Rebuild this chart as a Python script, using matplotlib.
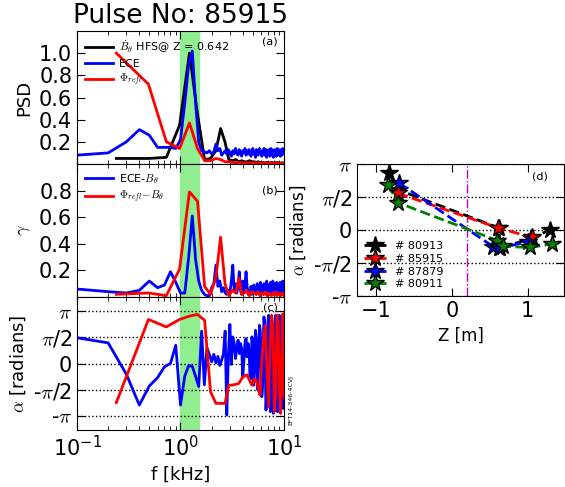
import numpy as np
import matplotlib
matplotlib.use('Agg')
import matplotlib.pyplot as plt

plt.rcParams['mathtext.fontset'] = 'cm'

# frecuencias (kHz)
f_refl = [0.24, 0.49, 0.73, 0.98, 1.22, 1.46, 1.71, 1.95, 2.20, 2.44,
          2.69, 2.93, 3.17, 3.42, 3.66, 3.91, 4.15, 4.39, 4.64, 4.88,
          5.13, 5.37, 5.62, 5.86, 6.10, 6.35, 6.59, 6.84, 7.08, 7.32,
          7.57, 7.81, 8.06, 8.30, 8.54, 8.79, 9.03, 9.28, 9.52, 9.77, 10.0]
f_ece = [0.1, 0.2, 0.3, 0.4, 0.5, 0.6, 0.7, 0.8, 0.9, 1.0,
         1.1, 1.2, 1.3, 1.4, 1.5, 1.6, 1.7, 1.8, 1.9, 2.0,
         2.1, 2.2, 2.3, 2.4, 2.5, 2.6, 2.7, 2.8, 2.9, 3.0,
         3.1, 3.2, 3.3, 3.4, 3.5, 3.6, 3.7, 3.8, 3.9, 4.0,
         4.1, 4.2, 4.3, 4.4, 4.5, 4.6, 4.7, 4.8, 4.9, 5.0,
         5.1, 5.2, 5.3, 5.4, 5.5, 5.6, 5.7, 5.8, 5.9, 6.0,
         6.1, 6.2, 6.3, 6.4, 6.5, 6.6, 6.7, 6.8, 6.9, 7.0,
         7.1, 7.2, 7.3, 7.4, 7.5, 7.6, 7.7, 7.8, 7.9, 8.0,
         8.1, 8.2, 8.3, 8.4, 8.5, 8.6, 8.7, 8.8, 8.9, 9.0,
         9.1, 9.2, 9.3, 9.4, 9.5, 9.6, 9.7, 9.8, 9.9, 10.0]

# (a) PSD
psd_bdot = [0.05, 0.05, 0.06, 0.35, 1.00, 0.45, 0.04, 0.05, 0.12, 0.32,
            0.20, 0.04, 0.03, 0.04, 0.02, 0.03, 0.02, 0.02, 0.03, 0.02,
            0.02, 0.015, 0.02, 0.015, 0.01, 0.015, 0.01, 0.015, 0.01, 0.01,
            0.015, 0.01, 0.01, 0.01, 0.015, 0.01, 0.01, 0.01, 0.01, 0.01, 0.01]
psd_refl = [1.00, 0.72, 0.20, 0.14, 0.37, 0.14, 0.03, 0.03, 0.05, 0.04,
            0.02, 0.02, 0.015, 0.01, 0.015, 0.01, 0.01, 0.01, 0.01, 0.008,
            0.01, 0.008, 0.01, 0.008, 0.008, 0.01, 0.008, 0.008, 0.006, 0.008,
            0.006, 0.008, 0.006, 0.006, 0.008, 0.006, 0.006, 0.005, 0.006, 0.005, 0.005]
psd_ece = [0.08, 0.10, 0.20, 0.31, 0.26, 0.15, 0.15, 0.15, 0.14, 0.22,
           0.55, 0.90, 1.02, 0.55, 0.20, 0.12, 0.11, 0.10, 0.12, 0.09,
           0.11, 0.18, 0.12, 0.14, 0.08, 0.10, 0.12, 0.09, 0.13, 0.10,
           0.07, 0.12, 0.09, 0.14, 0.10, 0.08, 0.13, 0.11, 0.07, 0.12,
           0.10, 0.14, 0.08, 0.12, 0.09, 0.13, 0.10, 0.07, 0.12, 0.14,
           0.09, 0.11, 0.06, 0.13, 0.10, 0.08, 0.12, 0.14, 0.09, 0.11,
           0.07, 0.12, 0.10, 0.14, 0.08, 0.11, 0.13, 0.06, 0.10, 0.12,
           0.09, 0.13, 0.07, 0.11, 0.14, 0.08, 0.10, 0.12, 0.06, 0.11,
           0.13, 0.09, 0.12, 0.07, 0.10, 0.14, 0.08, 0.11, 0.13, 0.09,
           0.12, 0.07, 0.10, 0.13, 0.08, 0.11, 0.14, 0.09, 0.12, 0.10]

# (b) coherencia
coh_ece = [0.06, 0.04, 0.03, 0.05, 0.12, 0.07, 0.09, 0.19, 0.11, 0.03,
           0.03, 0.30, 0.61, 0.28, 0.12, 0.05, 0.02, 0.01, 0.01, 0.07,
           0.10, 0.24, 0.08, 0.12, 0.04, 0.07, 0.03, 0.02, 0.05, 0.03,
           0.12, 0.24, 0.05, 0.10, 0.03, 0.08, 0.19, 0.05, 0.02, 0.12,
           0.04, 0.10, 0.19, 0.08, 0.02, 0.05, 0.03, 0.08, 0.02, 0.06,
           0.09, 0.03, 0.07, 0.02, 0.10, 0.04, 0.06, 0.02, 0.11, 0.03,
           0.05, 0.08, 0.02, 0.10, 0.04, 0.07, 0.02, 0.12, 0.05, 0.03,
           0.09, 0.02, 0.06, 0.11, 0.03, 0.08, 0.04, 0.12, 0.02, 0.07,
           0.03, 0.10, 0.05, 0.02, 0.11, 0.04, 0.08, 0.02, 0.10, 0.05,
           0.03, 0.11, 0.06, 0.02, 0.09, 0.04, 0.12, 0.03, 0.07, 0.05]
coh_refl = [0.02, 0.03, 0.01, 0.21, 0.79, 0.72, 0.08, 0.02, 0.15, 0.45,
            0.10, 0.01, 0.05, 0.03, 0.14, 0.02, 0.03, 0.05, 0.01, 0.04,
            0.03, 0.02, 0.04, 0.01, 0.03, 0.02, 0.04, 0.01, 0.03, 0.02,
            0.01, 0.03, 0.02, 0.04, 0.01, 0.02, 0.03, 0.01, 0.02, 0.03, 0.01]

# (c) fase
ph_ece = [1.55, 1.24, -0.65, -2.5, -1.35, -0.85, -0.2, 0.0, 1.1, -2.5,
          -0.75, -0.12, -0.17, -0.78, -1.39, 1.95, -1.28, 0.94, 0.55, 0.1,
          0.55, 0.03, 0.43, -0.12, 0.20, 0.60, 1.95, -3.1, 0.50, 2.35,
          -0.05, 1.6, 1.2, 0.3, 1.0, 1.4, 0.6, 1.2, 0.9, -0.8,
          0.2, 1.3, 1.5, 0.4, 1.2, 0.8, -1.0, -0.2, 1.6, 1.0,
          -1.3, 0.4, 2.0, 1.5, -0.9, -1.6, 0.8, 2.3, 2.0, 0.2,
          -2.0, -1.5, 1.0, 2.8, 2.4, -0.5, -2.8, -1.9, 1.8, 2.5,
          2.9, 0.6, -2.2, -2.9, 0.3, 2.6, 2.0, -1.1, -3.0, -2.6,
          0.9, 2.7, 2.9, 1.5, -0.4, -2.3, -2.9, 1.2, 2.4, 2.9,
          0.6, -2.1, -2.9, -1.5, 1.7, 2.5, 2.8, -0.2, -2.7, 1.0]
ph_refl = [-2.35, 2.65, 2.2, 2.65, 2.85, 2.95, 2.6, -1.7, -2.4, -2.4,
           -2.4, -1.3, -1.3, -1.25, -1.2, -0.9, -0.75, -0.68, -1.0, -1.3,
           -0.95, -1.0, -1.4, -1.9, 0.2, 1.5, 2.3, -0.5, -2.6, 1.0,
           2.9, 2.2, -2.9, -2.0, 2.9, 2.5, -1.5, -3.0, 0.5, 3.0, -2.0]

# (d) fase vs Z
shots = ['# 80913', '# 85915', '# 87879', '# 80911']
shot_colors = ['k', 'r', 'b', 'g']
z_pos = [[-0.83, -0.70, 0.62, 0.64, 1.05, 1.30],
         [-0.71, 0.61, 1.06],
         [-0.70, 0.55, 0.62, 1.01],
         [-0.84, -0.71, 0.60, 0.67, 1.03, 1.32]]
alpha_z = [[2.70, 1.90, 0.10, -0.85, -0.40, 0.02],
           [1.75, 0.10, -0.35],
           [2.25, -0.80, -0.88, -0.55],
           [2.14, 1.30, -0.50, -0.78, -0.83, -0.67]]

band = (1.0, 1.5)
pi_ticks = [-np.pi, -np.pi / 2, 0, np.pi / 2, np.pi]
pi_labels = [r'-$\pi$', r'-$\pi$/2', '0', r'$\pi$/2', r'$\pi$']

fig = plt.figure(figsize=(5.65, 4.87), dpi=100)
W, H = 565.0, 487.0
ax_a = fig.add_axes([77 / W, (H - 164) / H, 207 / W, 133 / H])
ax_b = fig.add_axes([77 / W, (H - 297) / H, 207 / W, 133 / H])
ax_c = fig.add_axes([77 / W, (H - 430) / H, 207 / W, 133 / H])
ax_d = fig.add_axes([357 / W, (H - 296) / H, 207 / W, 132 / H])

for ax in (ax_a, ax_b, ax_c):
    ax.axvspan(band[0], band[1], color='#90ee90', zorder=0)
    ax.set_xscale('log')
    ax.set_xlim(0.1, 10)
    ax.tick_params(which='both', direction='in', top=True, right=True, labelsize=15)
    ax.tick_params(which='major', length=6)
    ax.tick_params(which='minor', length=3)

ax_a.plot(f_refl, psd_bdot, 'k-', lw=2, label=r'$\dot{B}_\theta$ HFS@ Z = 0.642')
ax_a.plot(f_ece, psd_ece, 'b-', lw=2, label='ECE')
ax_a.plot(f_refl, psd_refl, 'r-', lw=2, label=r'$\Phi_{refl}$')
ax_a.set_ylim(0, 1.2)
ax_a.set_yticks([0.2, 0.4, 0.6, 0.8, 1.0])
ax_a.set_ylabel('PSD', fontsize=13)
ax_a.set_title('Pulse No: 85915', fontsize=19)
ax_a.legend(loc='upper left', frameon=False, fontsize=8, handlelength=2.5,
            handletextpad=0.6, borderaxespad=0.3, labelspacing=0.3)
ax_a.text(0.97, 0.9, '(a)', transform=ax_a.transAxes, ha='right', fontsize=8)
ax_a.tick_params(labelbottom=False)

ax_b.plot(f_ece, coh_ece, 'b-', lw=2, label=r'ECE-$B_\theta$')
ax_b.plot(f_refl, coh_refl, 'r-', lw=2, label=r'$\Phi_{refl}$$-B_\theta$')
ax_b.set_ylim(0, 1.0)
ax_b.set_yticks([0.2, 0.4, 0.6, 0.8])
ax_b.set_ylabel(r'$\gamma$', fontsize=13)
ax_b.legend(loc='upper left', frameon=False, fontsize=8, handlelength=2.5,
            handletextpad=0.6, borderaxespad=0.3, labelspacing=0.3)
ax_b.text(0.97, 0.78, '(b)', transform=ax_b.transAxes, ha='right', fontsize=8)
ax_b.tick_params(labelbottom=False)

for y in pi_ticks:
    ax_c.axhline(y, color='k', ls=':', lw=1, zorder=1)
ax_c.plot(f_ece, ph_ece, 'b-', lw=2)
ax_c.plot(f_refl, ph_refl, 'r-', lw=2)
ax_c.set_ylim(-4, 4)
ax_c.set_yticks(pi_ticks)
ax_c.set_yticklabels(pi_labels)
ax_c.set_ylabel(r'$\alpha$ [radians]', fontsize=13)
ax_c.set_xlabel('f [kHz]', fontsize=13)
ax_c.text(0.97, 0.9, '(c)', transform=ax_c.transAxes, ha='right', fontsize=8)
fig.text(288 / W, (H - 400) / H, 'EFT14-346-4CVJ', rotation=90, fontsize=4.5,
         ha='left', va='center')

for y in pi_ticks:
    ax_d.axhline(y, color='k', ls=':', lw=1, zorder=1)
ax_d.axvline(0.2, color='m', ls='-.', lw=1)
for name, c, zz, aa in zip(shots, shot_colors, z_pos, alpha_z):
    ax_d.plot(zz, aa, '--', color=c, lw=2, marker='*', markersize=13,
              markeredgecolor='k', label=name)
ax_d.set_xlim(-1.25, 1.48)
ax_d.set_ylim(-np.pi, np.pi)
ax_d.set_xticks([-1, 0, 1])
ax_d.set_yticks(pi_ticks)
ax_d.set_yticklabels(pi_labels)
ax_d.tick_params(direction='in', top=True, right=True, labelsize=15, length=6)
ax_d.set_xlabel('Z [m]', fontsize=12)
ax_d.set_ylabel(r'$\alpha$ [radians]', fontsize=12)
ax_d.legend(loc='lower left', frameon=False, fontsize=8, numpoints=1,
            handlelength=2.0, borderaxespad=0.2, labelspacing=0.25)
ax_d.text(0.92, 0.88, '(d)', transform=ax_d.transAxes, ha='right', fontsize=8)

fig.savefig('out.png', dpi=100)
